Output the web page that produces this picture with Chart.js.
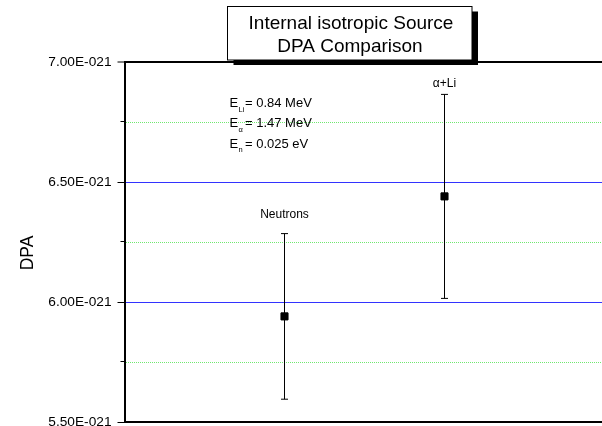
<!DOCTYPE html>
<html>
<head>
<meta charset="utf-8">
<script src="https://cdn.jsdelivr.net/npm/chart.js@4"></script>
<style>
  html, body { margin: 0; padding: 0; background: #fff; overflow: hidden; width: 602px; height: 426px; }
  #wrap { width: 606px; height: 426px; }
</style>
</head>
<body>
<div id="wrap"><canvas id="c" width="606" height="426"></canvas></div>
<script>
// Measured damage (DPA) per source, with symmetric uncertainties
const categories = ['Neutrons', 'α+Li'];
const categoryX = [2, 4];
const dpaMean = [5.94e-21, 6.44e-21];
const dpaError = [0.345e-21, 0.425e-21];

// Y axis ticks: labelled majors, unlabelled minors
const yTickValues = [5.50e-21, 5.75e-21, 6.00e-21, 6.25e-21, 6.50e-21, 6.75e-21, 7.00e-21];
const yTickLabels = ['5.50E-021', '', '6.00E-021', '', '6.50E-021', '', '7.00E-021'];

// Source energies shown in the note
const energyNotes = [
  { sub: 'Li', text: '= 0.84 MeV' },
  { sub: 'α', text: '= 1.47 MeV' },
  { sub: 'n', text: '= 0.025 eV' }
];
const titleLines = ['Internal isotropic Source', 'DPA Comparison'];
const yAxisTitle = 'DPA';

const FONT = '"Liberation Sans", Arial, Helvetica, sans-serif';
Chart.defaults.font.family = FONT;
Chart.defaults.color = '#000';

// gap in px between the top of an error bar and its category label
const categoryLabelGap = [16, 7];

const isMajor = i => !!yTickLabels[i];

function gridColor(i) {
  if (i === 0) return 'rgba(0,0,0,0)';
  if (i === yTickValues.length - 1) return '#000';
  return isMajor(i) ? '#3333ff' : '#70e870';
}

const meanSet = {
  label: 'DPA',
  data: categoryX.map((x, i) => ({ x, y: dpaMean[i] })),
  showLine: false,
  pointStyle: 'rect',
  pointRadius: 5,
  pointHoverRadius: 5,
  backgroundColor: '#000',
  borderColor: '#000',
  pointBorderWidth: 1
};

const errorSets = categories.map((name, i) => ({
  label: name,
  data: [
    { x: categoryX[i], y: dpaMean[i] - dpaError[i] },
    { x: categoryX[i], y: dpaMean[i] + dpaError[i] }
  ],
  showLine: true,
  fill: false,
  borderColor: '#000',
  backgroundColor: '#000',
  borderWidth: 1,
  pointStyle: 'line',
  pointRadius: 3.5,
  pointHoverRadius: 3.5,
  pointBorderColor: '#000',
  pointBorderWidth: 1
}));

const decorations = {
  id: 'decorations',
  afterDraw(chart) {
    const { ctx, chartArea, scales: { x, y } } = chart;
    ctx.save();

    // short minor ticks on the value axis
    ctx.strokeStyle = '#000';
    ctx.lineWidth = 1;
    y.ticks.forEach((t, i) => {
      if (isMajor(i)) return;
      const py = Math.round(y.getPixelForValue(t.value)) - 0.5;
      ctx.beginPath();
      ctx.moveTo(chartArea.left - 4, py);
      ctx.lineTo(chartArea.left, py);
      ctx.stroke();
    });

    // axis title
    ctx.fillStyle = '#000';
    ctx.save();
    ctx.translate(28.5, 253);
    ctx.rotate(-Math.PI / 2);
    ctx.font = '17.5px ' + FONT;
    ctx.textAlign = 'center';
    ctx.textBaseline = 'middle';
    ctx.fillText(yAxisTitle, 0, 0);
    ctx.restore();

    // category labels above each error bar
    ctx.font = '12px ' + FONT;
    ctx.textAlign = 'center';
    ctx.textBaseline = 'alphabetic';
    categories.forEach((name, i) => {
      const px = x.getPixelForValue(categoryX[i]);
      const py = y.getPixelForValue(dpaMean[i] + dpaError[i]) - categoryLabelGap[i];
      ctx.fillText(name, px, py);
    });

    // energy note
    const baselines = [107, 127, 147.5];
    energyNotes.forEach((n, i) => {
      const b = baselines[i];
      ctx.textAlign = 'left';
      ctx.font = '13px ' + FONT;
      ctx.fillText('E', 229.5, b);
      ctx.font = '7.5px ' + FONT;
      ctx.fillText(n.sub, 238.5, b + 4.5);
      ctx.font = '13px ' + FONT;
      ctx.fillText(n.text, 245, b);
    });

    // title box with drop shadow
    const bx = 227.5, by = 6.5, bw = 244.5, bh = 53.5;
    ctx.fillStyle = '#000';
    ctx.fillRect(bx + 6, by + 5, bw, bh);
    ctx.fillStyle = '#fff';
    ctx.fillRect(bx, by, bw, bh);
    ctx.strokeStyle = '#000';
    ctx.lineWidth = 1;
    ctx.strokeRect(bx, by, bw, bh);
    ctx.fillStyle = '#000';
    ctx.font = '19px ' + FONT;
    ctx.textAlign = 'center';
    ctx.fillText(titleLines[0], 351, 28.5);
    ctx.fillText(titleLines[1], 350, 52);

    ctx.restore();
  }
};

new Chart(document.getElementById('c'), {
  type: 'scatter',
  data: { datasets: [meanSet, ...errorSets] },
  options: {
    responsive: false,
    devicePixelRatio: 1,
    animation: false,
    events: [],
    layout: { autoPadding: false, padding: { top: 62, right: 1.5, bottom: 0, left: 0 } },
    plugins: {
      legend: { display: false },
      tooltip: { enabled: false },
      title: { display: false }
    },
    scales: {
      x: {
        type: 'linear',
        position: 'bottom',
        min: 0,
        max: 6,
        ticks: { display: false },
        grid: { drawOnChartArea: false, drawTicks: false },
        border: { color: '#000', width: 2 },
        afterFit: s => {
          s.height = 4;
          s.paddingLeft = s.paddingRight = s.paddingTop = s.paddingBottom = 0;
        }
      },
      y: {
        type: 'linear',
        position: 'left',
        min: yTickValues[0],
        max: yTickValues[yTickValues.length - 1],
        afterBuildTicks: s => { s.ticks = yTickValues.map(v => ({ value: v })); },
        afterFit: s => {
          s.width = 124.5;
          s.paddingLeft = s.paddingRight = s.paddingTop = s.paddingBottom = 0;
        },
        ticks: {
          autoSkip: false,
          padding: 6,
          color: '#000',
          font: { size: 13.7 },
          callback: (v, i) => yTickLabels[i]
        },
        grid: {
          color: c => gridColor(c.index),
          lineWidth: c => (c.index === yTickValues.length - 1 ? 2 : 1),
          tickColor: c => (isMajor(c.index) ? '#000' : 'rgba(0,0,0,0)'),
          tickLength: 7,
          tickWidth: 1
        },
        border: {
          color: '#000',
          width: 2,
          dash: c => (c.tick && !isMajor(c.index) ? [1, 1] : [])
        }
      }
    }
  },
  plugins: [decorations]
});
</script>
</body>
</html>
